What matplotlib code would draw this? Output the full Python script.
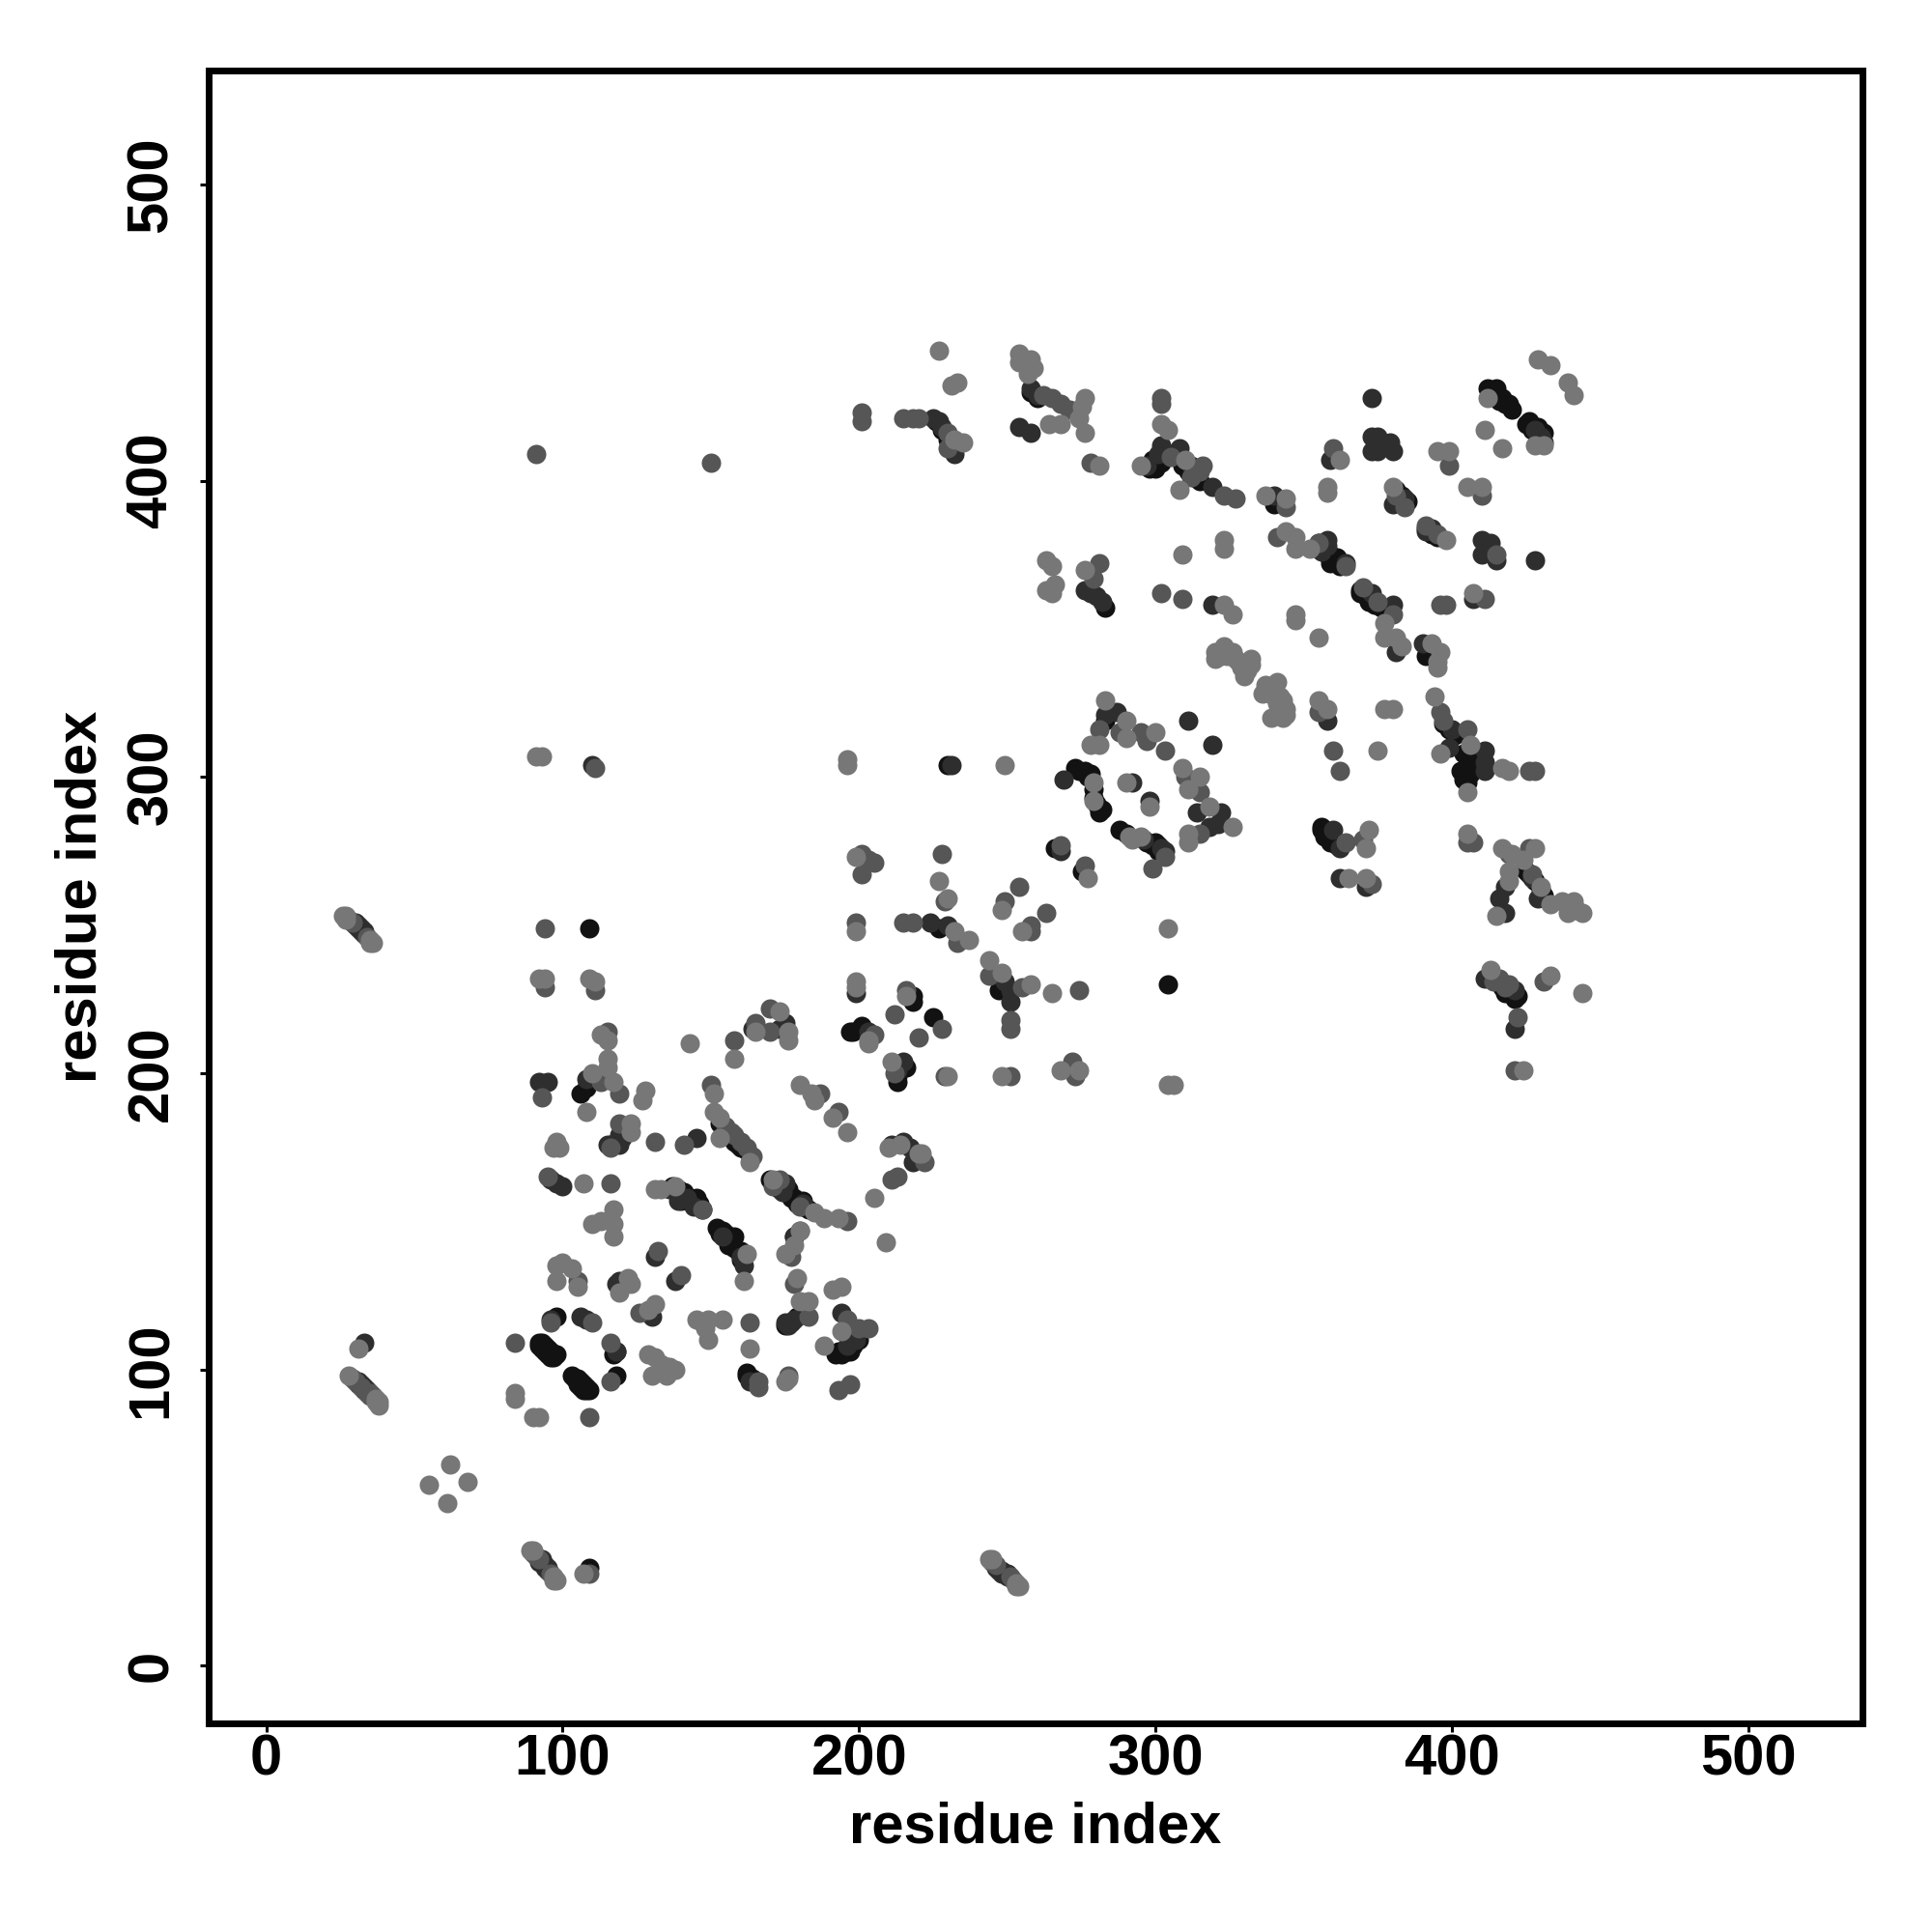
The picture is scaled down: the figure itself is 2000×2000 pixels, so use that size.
import matplotlib
matplotlib.use("Agg")
import matplotlib.pyplot as plt

# contact points, grouped by grey level
black_pts = [
    (93,109),(92,108),(93,108),(94,107),(95,106),(96,105),(97,104),(98,105),
    (92,109),(94,108),(95,107),(96,106),(97,105),(93,107),(94,106),(95,105),(96,104),
    (104,97),(105,96),(106,95),(107,94),(108,94),(109,93),(103,98),(105,97),(106,96),(107,95),(108,93),(105,95),(106,94),(107,93),
    (98,118),(118,98),(117,105),(118,106),(106,193),(108,195),(116,176),
    (141,160),(145,158),(154,147),(158,145),(156,142),(160,140),(159,176),(162,174),(160,176),
    (137,162),(139,161),(141,159),(143,158),(144,156),(146,156),(147,154),(140,157),
    (152,148),(153,146),(155,146),(156,144),(157,143),(158,141),(159,140),(160,137),
    (170,164),(172,162),(173,161),(175,160),(177,158),(179,156),(181,155),(183,154),
    (153,183),(155,181),(157,179),(158,177),(160,175),
    (176,161),(178,158),(181,157),(178,145),(162,99),(194,105),(193,106),(196,106),(198,214),(201,216),
    (164,97),(162,98),(175,115),(177,116),(179,118),(197,106),(198,108),(200,110),(192,105),
    (197,214),(218,226),(218,224),(225,219),(216,202),(213,197),(213,199),
    (279,293),(282,289),(281,288),(276,302),(278,301),(273,303),(288,282),(290,281),(300,278),(301,277),
    (274,302),(277,300),(279,296),(280,291),(281,289),(297,278),(299,277),(301,275),
    (283,319),(266,276),(275,268),(227,249),(247,228),(304,230),(230,304),
    (283,357),(299,407),(298,404),(315,400),(340,392),(359,375),(359,372),(361,374),
    (355,379),(357,377),(358,375),(360,373),(362,371),(369,363),(371,361),(372,360),(374,358),(376,357),
    (300,404),(302,406),(305,409),(309,405),(311,403),(313,401),
    (381,397),(383,395),(385,393),(391,384),(393,382),(395,381),
    (397,318),(399,316),(401,314),(404,308),(406,306),(403,302),
    (369,362),(372,359),(391,341),(404,299),(406,301),(405,298),(415,431),(417,428),(419,426),
    (412,431),(414,429),(416,427),(418,426),(420,424),(425,419),(427,417),(429,415),
    (426,420),(431,416),(429,418),(356,283),(359,278),(358,281),(425,268),(431,260),(422,226),(418,227),(420,228),
    (356,282),(357,280),(360,279),(361,277),(424,269),(426,267),(428,265),(430,262),
    (415,231),(417,229),(419,227),(421,225),(226,420),(228,417),(230,414),(258,430),(260,428),
    (109,249),(109,33),
]
dark_pts = [
    (33,109),(95,197),(92,197),(108,198),(115,176),(118,129),(119,130),(130,118),(138,130),(131,138),
    (96,164),(100,162),(98,163),(136,161),(139,157),(144,155),(142,158),(154,145),(161,135),(160,138),
    (175,163),(174,160),(181,156),(178,117),(175,116),(176,115),(178,145),(164,215),(175,217),(173,215),
    (145,178),(96,117),(106,118),(108,117),(118,106),(135,101),(163,96),(199,110),(196,108),(194,119),
    (199,227),(203,214),(213,201),(215,204),(231,304),(269,299),(292,298),(298,292),(311,319),(319,311),
    (287,322),(283,321),(322,288),(318,283),(321,284),(314,288),(268,275),(302,276),(303,275),(296,279),
    (230,250),(224,251),(249,231),(251,228),(251,224),(211,176),(217,175),(215,177),(218,170),
    (276,363),(278,362),(280,361),(282,359),(258,431),(260,429),(254,418),(258,416),(225,421),(227,420),(228,418),
    (232,409),(302,412),(308,411),(312,405),(297,405),(301,409),(319,398),(340,395),(359,407),
    (373,415),(375,415),(373,410),(379,413),(380,410),(375,410),(384,394),(380,392),(393,384),(391,383),
    (410,380),(413,379),(410,375),(415,373),(412,376),(428,373),(373,428),(358,380),(356,376),(364,372),(358,378),
    (380,358),(373,362),(381,342),(319,358),(407,360),(390,345),(358,319),(400,316),(399,310),(411,309),(411,305),(411,302),
    (360,282),(362,276),(362,266),(371,263),(418,263),(416,259),(418,254),(427,266),(429,259),(421,215),(411,232),(421,228),
    (428,417),(431,413),(430,415),(93,36),(94,34),(95,33),(246,33),(248,32),(250,31),(31,95),(33,93),(30,250),(31,249),(32,248),(33,247),
    (29,251),(30,251),(31,250),(32,249),(33,248),(92,35),(93,35),(94,33),(95,32),(247,32),(248,31),(249,31),(250,30),
    (31,96),(32,95),(33,94),(34,93),(110,304),(120,178),(119,179),(119,176),
]
mid_pts = [
    (94,229),(111,228),(115,214),(93,192),(113,197),(119,193),(116,175),(131,177),(141,176),(150,196),
    (158,211),(165,217),(170,222),(170,214),(187,193),(193,187),(95,165),(116,163),(147,154),(196,150),(177,138),
    (105,130),(132,140),(140,132),(126,119),(178,129),(163,116),(183,118),(196,117),(200,114),(203,114),
    (197,95),(193,93),(116,109),(116,96),(166,96),(166,94),(176,98),(110,116),(96,116),(180,147),(119,183),
    (155,182),(157,180),(158,179),(160,177),(162,175),(164,172),(171,162),(173,164),(180,155),(84,109),(109,84),
    (201,423),(201,420),(215,421),(218,421),(220,421),(230,416),(230,411),(262,429),(265,428),(268,426),(271,424),
    (91,409),(150,406),(278,406),(281,372),(279,367),(199,251),(215,251),(218,251),(228,274),(229,258),(254,263),
    (249,258),(263,254),(258,250),(258,248),(201,274),(203,272),(201,267),(205,271),(228,215),(220,212),(212,220),
    (216,228),(205,213),(212,200),(229,199),(251,199),(272,204),(273,199),(276,270),(303,273),(299,269),(268,277),
    (281,316),(295,315),(297,312),(303,309),(288,315),(310,300),(315,295),(315,281),(274,228),(255,229),(251,218),(251,215),
    (233,244),(244,233),(222,170),(213,165),(211,164),(305,408),(316,405),(323,395),(327,394),(312,401),(315,403),
    (344,391),(360,411),(341,381),(355,379),(364,371),(370,364),(375,359),(380,355),(302,428),(302,426),(302,362),(309,360),
    (399,405),(410,395),(381,395),(384,391),(391,385),(395,382),(415,375),(396,322),(397,319),(405,316),(360,309),
    (362,302),(426,302),(428,302),(355,322),(364,278),(370,279),(373,264),(407,278),(405,278),(419,274),(426,276),(427,267),(442,255),
    (431,231),(416,232),(419,230),(422,219),(421,201),(411,360),(396,358),(398,358),
    (29,97),(30,96),(32,94),(34,92),(35,91),(28,252),(90,38),(96,31),(245,35),(252,29),(109,31),(94,249),(111,303),
    (36,91),(35,92),(29,251),(34,246),(91,37),(92,36),(251,30),(246,34),(122,182),(414,231),(418,229),
]
light_pts = [
    (91,307),(93,307),
    (94,232),(109,232),(111,231),(113,213),(115,211),(115,205),(115,202),(108,187),(110,200),(117,197),
    (128,194),(127,191),(123,183),(123,180),(98,177),(97,175),(99,175),(143,210),(151,193),(151,187),(153,185),(153,178),
    (163,170),(158,205),(165,214),(173,221),(176,214),(176,211),(199,229),(203,210),(180,196),(184,193),(185,191),
    (191,185),(196,180),(107,163),(131,161),(133,161),(138,162),(162,139),(161,130),(185,153),(188,151),(193,151),
    (171,164),(180,147),(178,142),(175,139),(117,154),(110,149),(113,150),(117,149),(117,145),(100,136),(103,134),(98,135),
    (98,130),(105,128),(122,131),(123,129),(119,126),(131,122),(129,120),(179,131),(194,128),(191,127),(145,117),(149,117),(147,116),
    (154,117),(148,114),(149,110),(163,107),(183,123),(180,123),(194,113),(188,108),(129,105),(131,104),(133,102),(136,101),(138,100),
    (130,98),(135,98),(175,96),(176,97),(84,92),(84,90),(90,84),(92,84),(55,61),(62,68),(61,55),(68,62),(31,107),
    (38,88),(37,89),(28,98),(36,244),(35,245),(26,253),(27,253),(89,39),(98,29),(97,30),(244,36),(254,27),(253,28),(107,31),
    (227,444),(233,433),(231,432),(235,413),(232,414),(254,443),(254,440),(258,441),(259,438),(257,436),
    (276,428),(275,425),(274,421),(276,416),(268,419),(264,419),(281,405),(263,373),(265,371),(263,363),(266,365),(265,362),(276,370),
    (196,306),(196,304),(249,304),(283,326),(278,311),(281,311),(290,319),(290,313),(300,315),(279,298),(279,292),(290,298),(298,290),
    (291,280),(295,280),(292,279),(330,334),(337,331),(341,332),(343,326),(344,323),(339,320),(343,320),(336,328),(340,327),(342,327),
    (355,326),(358,323),(377,323),(380,323),(375,309),(309,303),(315,300),(311,296),(318,290),(326,283),(311,281),(311,278),
    (199,273),(199,248),(227,265),(230,259),(248,255),(255,248),(304,249),(237,245),(232,248),(244,238),(248,234),(258,230),(265,227),
    (199,231),(216,226),(203,211),(211,204),(230,199),(248,199),(268,201),(274,201),(304,196),(306,196),(277,266),
    (205,158),(209,143),(214,176),(221,173),(210,175),(220,173),(295,405),(302,419),(304,417),(308,397),(310,407),(337,395),
    (344,394),(358,398),(358,396),(362,407),(395,410),(399,410),(405,398),(410,398),(380,398),(398,380),(309,375),(323,380),(323,377),
    (344,383),(347,381),(347,377),(352,377),(377,352),(377,347),(381,347),(383,344),(323,358),(326,355),(347,355),(347,353),(355,347),
    (407,362),(393,345),(396,342),(395,339),(395,337),(320,342),(323,344),(320,340),(326,342),(327,340),(332,340),(329,337),(332,338),
    (322,341),(324,341),(328,339),(330,338),(331,336),(338,330),(339,328),(341,325),(342,323),(344,321),
    (394,327),(396,308),(406,311),(405,295),(417,303),(419,302),(372,282),(371,276),(365,266),(371,266),(405,281),(417,276),(420,274),
    (428,276),(424,272),(419,268),(419,265),(430,263),(433,257),(437,258),(441,258),(439,254),(444,254),(415,253),(413,235),(433,233),
    (444,227),(424,201),(429,441),(433,439),(439,433),(441,429),(412,428),(411,417),(417,411),(428,412),(431,412),(92,232),
    (37,90),(38,89),(35,244),(27,252),(90,39),(97,29),(245,36),(253,27),
]
grey_levels = ["#121212", "#2e2e2e", "#565656", "#777777"]
tick_vals = [0, 100, 200, 300, 400, 500]

plt.rcParams['font.family'] = ['Liberation Sans', 'DejaVu Sans']
plt.rcParams['font.weight'] = 'bold'

fig = plt.figure(figsize=(10, 10), dpi=200)
ax = fig.add_axes([0.108, 0.108, 0.856, 0.8555])

for pts, col in zip([black_pts, dark_pts, mid_pts, light_pts], grey_levels):
    xs = [p[0] for p in pts]
    ys = [p[1] for p in pts]
    ax.scatter(xs, ys, s=52, c=col, linewidths=0, zorder=3)

ax.set_xlim(-19.4, 538.4)
ax.set_ylim(-19.4, 538.4)
ax.set_xticks(tick_vals)
ax.set_yticks(tick_vals)
for s in ax.spines.values():
    s.set_linewidth(2.5)
ax.tick_params(axis='x', length=3.2, width=1.1, labelsize=21.5, pad=0.5)
ax.tick_params(axis='y', length=3.2, width=1.1, labelsize=21.5, pad=8)
plt.setp(ax.get_yticklabels(), rotation=90, va='center')
ax.set_xlabel('residue index', fontsize=21.5, fontweight='bold', labelpad=5.5)
ax.set_ylabel('residue index', fontsize=21.5, fontweight='bold', labelpad=6.5)

fig.savefig('out.png', dpi=200)
